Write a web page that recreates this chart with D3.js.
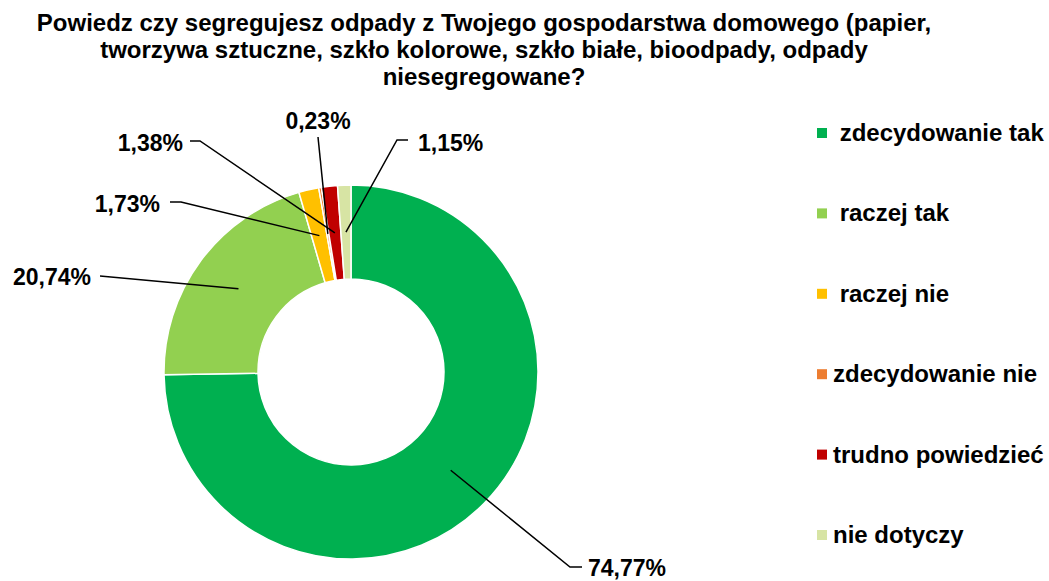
<!DOCTYPE html>
<html>
<head>
<meta charset="utf-8">
<script src="https://cdn.jsdelivr.net/npm/d3@7"></script>
<style>
  body { margin: 0; background: #fff; }
  svg text { font-family: "Liberation Sans", Arial, sans-serif; font-weight: bold; fill: #000; }
</style>
</head>
<body>
<div id="chart"></div>
<script>
// dane z wykresu
const categories = [" zdecydowanie tak", " raczej tak", " raczej nie", "zdecydowanie nie", "trudno powiedzieć", "nie dotyczy"];
const values = [74.77, 20.74, 1.73, 0.23, 1.38, 1.15];
const colors = ["#00B050", "#92D050", "#FFC000", "#ED7D31", "#C00000", "#D7E4A4"];
const titleLines = [
    "Powiedz czy segregujesz odpady z Twojego gospodarstwa domowego (papier,",
    "tworzywa sztuczne, szkło kolorowe, szkło białe, bioodpady, odpady",
    "niesegregowane?"
];

// rozmieszczenie etykiet (tekst + łamanie linii odniesienia)
const labelLayout = [
    {x: 588, y: 576, anchor: "start", elbow: [[582, 567], [570, 567]]},
    {x: 91,  y: 285, anchor: "end",   elbow: [[100, 276]]},
    {x: 160, y: 212, anchor: "end",   elbow: [[170, 202], [181, 202]]},
    {x: 318, y: 129, anchor: "middle", elbow: [[318, 137]]},
    {x: 183, y: 151, anchor: "end",   elbow: [[190, 141], [200, 141]]},
    {x: 418, y: 151, anchor: "start", elbow: [[408, 140], [397, 140]]}
];

const width = 1049, height = 581;
const cx = 351, cy = 372;
const outerR = 187, innerR = 93;

const svg = d3.select("#chart")
    .append("svg")
    .attr("width", width)
    .attr("height", height);

// tytuł
svg.append("text")
    .attr("x", 484)
    .attr("y", 31)
    .attr("text-anchor", "middle")
    .attr("font-size", "24px")
    .selectAll("tspan")
    .data(titleLines)
    .enter().append("tspan")
    .attr("x", 484)
    .attr("dy", (d, i) => i === 0 ? 0 : 27)
    .text(d => d);

const data = categories.map((c, i) => ({name: c, value: values[i], color: colors[i]}));

const pie = d3.pie()
    .sort(null)
    .value(d => d.value);

const arc = d3.arc()
    .innerRadius(innerR)
    .outerRadius(outerR);

const arcs = pie(data);

const g = svg.append("g")
    .attr("transform", `translate(${cx},${cy})`);

g.selectAll(".slice")
    .data(arcs)
    .enter().append("path")
    .attr("class", "slice")
    .attr("d", arc)
    .attr("fill", d => d.data.color)
    .attr("stroke", "#fff")
    .attr("stroke-width", 1.5);

// linie odniesienia
const line = d3.line();
svg.selectAll(".leader")
    .data(arcs)
    .enter().append("path")
    .attr("class", "leader")
    .attr("d", (d, i) => {
        const c = arc.centroid(d);
        const pts = labelLayout[i].elbow.concat([[cx + c[0], cy + c[1]]]);
        return line(pts);
    })
    .attr("fill", "none")
    .attr("stroke", "#000")
    .attr("stroke-width", 1.5);

svg.selectAll(".pct")
    .data(arcs)
    .enter().append("text")
    .attr("class", "pct")
    .attr("x", (d, i) => labelLayout[i].x)
    .attr("y", (d, i) => labelLayout[i].y)
    .attr("text-anchor", (d, i) => labelLayout[i].anchor)
    .attr("font-size", "23px")
    .text(d => d.data.value.toFixed(2).replace(".", ",") + "%");

// legenda
const legendY = d3.scalePoint()
    .domain(categories)
    .range([133, 535]);

const legend = svg.selectAll(".legend")
    .data(data)
    .enter().append("g")
    .attr("class", "legend")
    .attr("transform", d => `translate(817,${legendY(d.name)})`);

legend.append("rect")
    .attr("x", 0)
    .attr("y", -5)
    .attr("width", 10)
    .attr("height", 10)
    .attr("fill", d => d.color);

legend.append("text")
    .attr("x", 16)
    .attr("y", 8)
    .attr("font-size", "24px")
    .style("white-space", "pre")
    .text(d => d.name);
</script>
</body>
</html>
